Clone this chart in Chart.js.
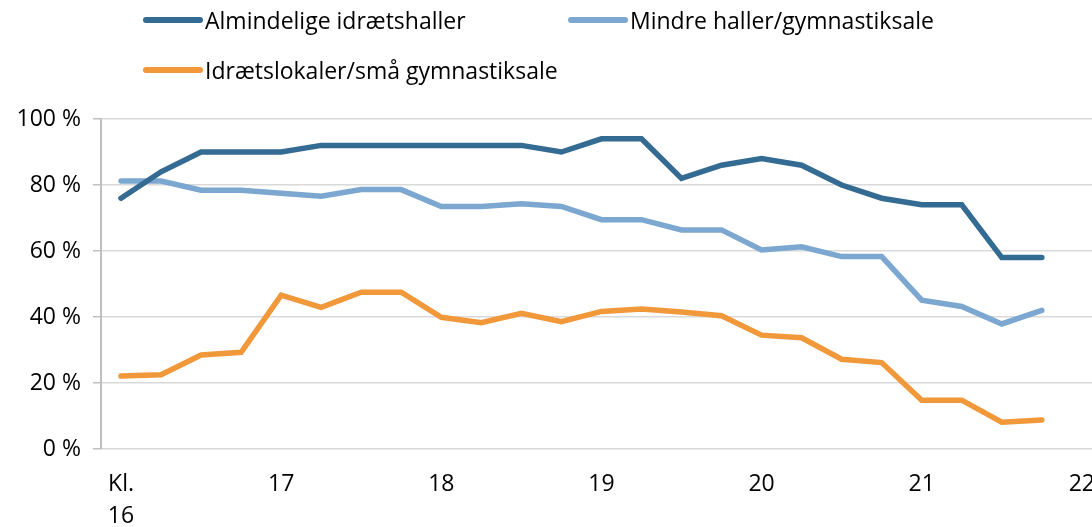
<!DOCTYPE html>
<html>
<head>
<meta charset="utf-8">
<script src="https://cdn.jsdelivr.net/npm/chart.js@4/dist/chart.umd.min.js"></script>
<style>
  html, body { margin: 0; padding: 0; background: #fff; overflow: hidden; }
  .wrap { position: relative; width: 1114px; height: 527px; }
  .legend { position: absolute; left: 0; top: 0; font-family: 'Open Sans', sans-serif; font-size: 23px; color: #000; }
  .legend .item { position: absolute; display: flex; align-items: center; white-space: nowrap; }
  .legend .swatch { width: 60px; height: 6px; border-radius: 3px; margin-right: 2px; }
</style>
</head>
<body>
<div class="wrap">
  <canvas id="myChart" width="1114" height="527"></canvas>
  <div class="legend" id="legend"></div>
</div>
<script>
// quarter-hour categories 16:00 .. 22:00
const categories = ['16:00', '16:15', '16:30', '16:45', '17:00', '17:15', '17:30', '17:45',
  '18:00', '18:15', '18:30', '18:45', '19:00', '19:15', '19:30', '19:45',
  '20:00', '20:15', '20:30', '20:45', '21:00', '21:15', '21:30', '21:45', '22:00'];
const hourLabels = [['Kl.', '16'], '17', '18', '19', '20', '21', '22'];
const yTicks = [0, 20, 40, 60, 80, 100];

const almindelige = [76, 84, 90, 90, 90, 92, 92, 92, 92, 92, 92, 90,
  94, 94, 82, 86, 88, 86, 80, 76, 74, 74, 58, 58, null];
const mindre = [81.2, 81.2, 78.4, 78.4, 77.5, 76.6, 78.6, 78.6, 73.5, 73.5, 74.3, 73.5,
  69.5, 69.5, 66.4, 66.4, 60.3, 61.3, 58.3, 58.3, 45.1, 43.2, 37.9, 42, null];
const idraetslokaler = [22.1, 22.5, 28.5, 29.3, 46.6, 42.9, 47.5, 47.5, 39.9, 38.3, 41.1, 38.6,
  41.7, 42.4, 41.5, 40.4, 34.5, 33.7, 27.2, 26.2, 14.8, 14.8, 8.1, 8.8, null];

const seriesNames = ['Almindelige idrætshaller', 'Mindre haller/gymnastiksale', 'Idrætslokaler/små gymnastiksale'];
const seriesColors = ['#336b93', '#7ba7d0', '#f0983a'];

const ctx = document.getElementById('myChart');
const font = { family: "'Open Sans', sans-serif", size: 23 };

const datasets = [almindelige, mindre, idraetslokaler].map((d, i) => ({
  label: seriesNames[i],
  data: d,
  borderColor: seriesColors[i],
  backgroundColor: seriesColors[i],
  borderWidth: 5.5,
  pointRadius: 0,
  tension: 0,
  fill: false,
  borderCapStyle: 'round',
  borderJoinStyle: 'miter',
}));

const myChart = new Chart(ctx, {
  type: 'line',
  data: { labels: categories, datasets: datasets },
  options: {
    responsive: false,
    animation: false,
    layout: { padding: { top: 119, left: 0, right: 0, bottom: 0 } },
    plugins: { legend: { display: false }, tooltip: { enabled: false } },
    scales: {
      x: {
        offset: true,
        grid: { display: false, drawTicks: false },
        border: { display: false },
        ticks: {
          autoSkip: false,
          maxRotation: 0,
          padding: 19,
          color: '#000',
          font: { family: font.family, size: 23, lineHeight: 1.4 },
          callback: (v, i) => (i % 4 === 0 ? hourLabels[i / 4] : ''),
        },
        afterFit: s => { s.height = 78; },
      },
      y: {
        min: 0,
        max: 100,
        afterBuildTicks: s => { s.ticks = yTicks.map(v => ({ value: v })); },
        grid: { color: '#d9d9d9', lineWidth: 1.5, tickLength: 8, tickColor: '#bfbfbf' },
        border: { color: '#bfbfbf', width: 2 },
        ticks: {
          padding: 12,
          color: '#000',
          font: font,
          callback: v => v + ' %',
        },
        afterFit: s => { s.width = 101; },
      },
    },
  },
});

// legend laid out like the original (two columns)
const legendPos = [[143, 20], [568, 20], [143, 70]];
const legendDiv = document.getElementById('legend');
seriesNames.forEach((name, i) => {
  const item = document.createElement('div');
  item.className = 'item';
  item.style.left = legendPos[i][0] + 'px';
  item.style.top = (legendPos[i][1] - 15) + 'px';
  item.style.height = '30px';
  const sw = document.createElement('span');
  sw.className = 'swatch';
  sw.style.background = seriesColors[i];
  const txt = document.createElement('span');
  txt.textContent = name;
  item.appendChild(sw);
  item.appendChild(txt);
  legendDiv.appendChild(item);
});
</script>
</body>
</html>
